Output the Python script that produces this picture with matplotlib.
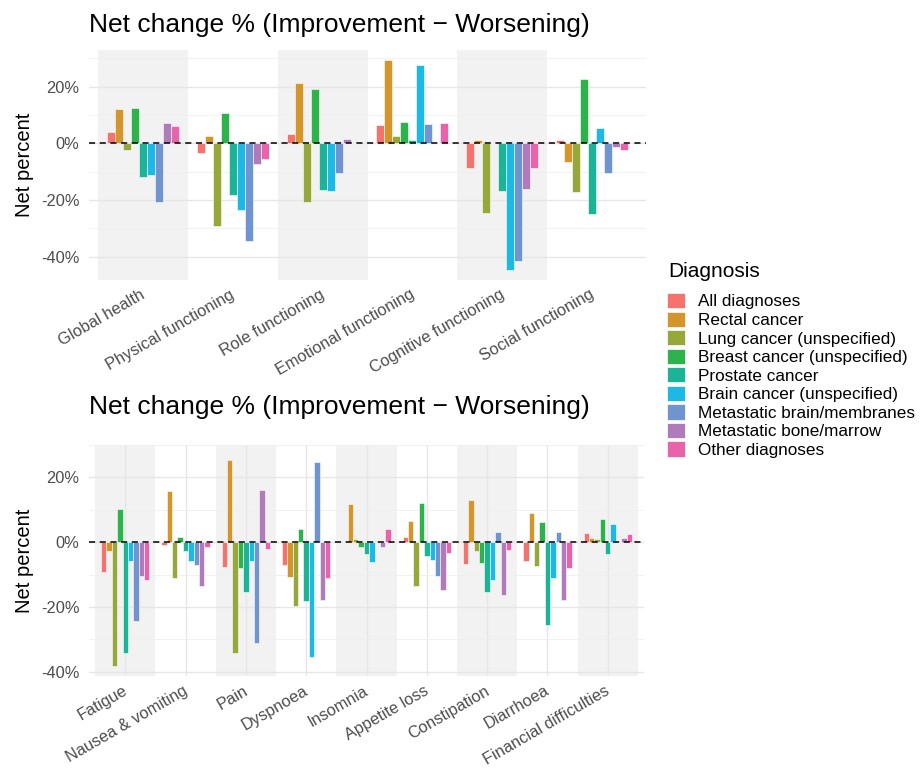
import numpy as np
import matplotlib.pyplot as plt
import matplotlib.transforms as mtransforms
from matplotlib.patches import Patch

plt.rcParams["font.family"] = ["Liberation Sans", "DejaVu Sans"]

diagnoses = [
    "All diagnoses",
    "Rectal cancer",
    "Lung cancer (unspecified)",
    "Breast cancer (unspecified)",
    "Prostate cancer",
    "Brain cancer (unspecified)",
    "Metastatic brain/membranes",
    "Metastatic bone/marrow",
    "Other diagnoses",
]
colors = ["#F4736C", "#D4952A", "#97A83A", "#2EB34C", "#1CB496",
          "#1DB9E6", "#6F94CF", "#AF7BBA", "#E963AA"]

# functioning scales, net % per diagnosis (order as in `diagnoses`)
functioning_labels = ["Global health", "Physical functioning", "Role functioning",
                      "Emotional functioning", "Cognitive functioning", "Social functioning"]
global_health = [4.0, 12.0, -2.4, 12.6, -11.8, -11.2, -20.7, 7.2, 6.0]
physical = [-3.5, 2.6, -29.3, 10.7, -18.2, -23.5, -34.6, -7.4, -5.5]
role = [3.4, 21.2, -20.7, 19.3, -16.4, -16.7, -10.4, 1.4, 0.0]
emotional = [6.5, 29.2, 2.4, 7.4, 1.2, 27.5, 6.7, 0.0, 7.2]
cognitive = [-8.7, 1.3, -24.5, 0.0, -16.7, -44.5, -41.4, -16.2, -8.7]
social = [1.3, -6.7, -17.2, 22.5, -24.8, 5.3, -10.4, -1.3, -2.4]

# symptom scales
symptom_labels = ["Fatigue", "Nausea & vomiting", "Pain", "Dyspnoea", "Insomnia",
                  "Appetite loss", "Constipation", "Diarrhoea", "Financial difficulties"]
fatigue = [-9.2, -2.8, -38.1, 10.2, -34.1, -5.7, -24.2, -10.4, -11.7]
nausea = [-0.8, 15.9, -11.1, 1.6, -2.7, -5.7, -7.1, -13.4, -1.5]
pain = [-7.5, 25.3, -34.2, -7.8, -15.3, -5.7, -31.0, 16.0, -2.1]
dyspnoea = [-7.1, -10.8, -19.8, 4.1, -18.1, -35.5, 24.7, -17.8, -11.0]
insomnia = [0.0, 11.8, 1.0, -1.5, -3.5, -6.1, 0.0, -1.5, 4.2]
appetite = [1.7, 6.4, -13.4, 12.2, -4.1, -5.6, -10.4, -14.8, -3.3]
constipation = [-6.8, 13.1, -2.6, -6.3, -15.5, -11.8, 3.2, -16.4, -2.5]
diarrhoea = [-5.9, 9.1, -7.4, 6.2, -25.5, -11.1, 3.3, -17.7, -8.1]
financial = [2.7, 1.2, 1.0, 7.2, -3.6, 5.5, 0.0, 1.2, 2.5]

functioning = np.array([global_health, physical, role, emotional, cognitive, social])
symptoms = np.array([fatigue, nausea, pain, dyspnoea, insomnia, appetite,
                     constipation, diarrhoea, financial])

W, H = 921, 770
fig = plt.figure(figsize=(W / 100, H / 100), dpi=100)

TEXT = "#4D4D4D"


def panel(rect, labels, values, vgrid):
    ax = fig.add_axes(rect)
    n = len(labels)
    x = np.arange(n)
    k = len(diagnoses)
    w = 0.8 / k
    for j in range(k):
        ax.bar(x - 0.4 + w * (j + 0.5), values[:, j], width=w, color=colors[j],
               edgecolor="white", linewidth=0.4, zorder=3)
    # alternating background bands
    for i in range(0, n, 2):
        ax.axvspan(i - 0.5, i + 0.5, color="#F2F2F2", lw=0, zorder=0)
    ax.axhline(0, color="black", ls=(0, (4, 3)), lw=1.1, zorder=4)

    lo, hi = values.min(), values.max()
    pad = (hi - lo) * 0.05
    ax.set_ylim(lo - pad, hi + pad)
    ax.set_xlim(-0.6, n - 0.4)
    ax.set_yticks([-40, -20, 0, 20])
    ax.set_yticklabels(["-40%", "-20%", "0%", "20%"])
    ax.set_yticks([-30, -10, 10, 30], minor=True)
    ax.grid(axis="y", which="major", color="#E6E6E6", lw=1.0, zorder=1)
    ax.grid(axis="y", which="minor", color="#EFEFEF", lw=0.6, zorder=1)
    if vgrid:
        ax.grid(axis="x", which="major", color="#E6E6E6", lw=1.0, zorder=1)
    ax.set_axisbelow(True)
    ax.set_xticks(x)
    ax.set_xticklabels(labels, rotation=30, ha="right", rotation_mode="anchor")
    ax.tick_params(axis="both", which="both", length=0, labelsize=11.8, labelcolor=TEXT)
    ax.tick_params(axis="y", pad=7)
    ax.tick_params(axis="x", pad=5)
    # nudge the rotated labels a little to the left of their ticks
    shift = mtransforms.ScaledTranslation(-3 / 100, 0, fig.dpi_scale_trans)
    for lab in ax.get_xticklabels():
        lab.set_transform(lab.get_transform() + shift)
    for s in ax.spines.values():
        s.set_visible(False)
    ax.set_ylabel("Net percent", fontsize=14.5, labelpad=5)
    return ax


top = panel([89 / W, 1 - 280 / H, 557 / W, 230 / H], functioning_labels, functioning, False)
bottom = panel([89 / W, 1 - 676 / H, 555 / W, 231 / H], symptom_labels, symptoms, True)

title = "Net change % (Improvement \u2212 Worsening)"
fig.text(89 / W, 1 - 25 / H, title, fontsize=19, va="center", ha="left")
fig.text(89 / W, 1 - 407 / H, title, fontsize=19, va="center", ha="left")

# legend title drawn separately to control the gap above the keys
fig.text(668 / W, 1 - 271 / H, "Diagnosis", fontsize=15, va="center", ha="left")
handles = [Patch(facecolor=c, edgecolor="white", linewidth=0.5) for c in colors]
fig.legend(handles, diagnoses, loc="upper left", bbox_to_anchor=(667 / W, 1 - 293 / H),
           frameon=False, fontsize=12.3, handlelength=1.05, handleheight=1.0,
           labelspacing=0.12, handletextpad=0.75, borderpad=0, borderaxespad=0)

fig.savefig("out.png", dpi=100)
